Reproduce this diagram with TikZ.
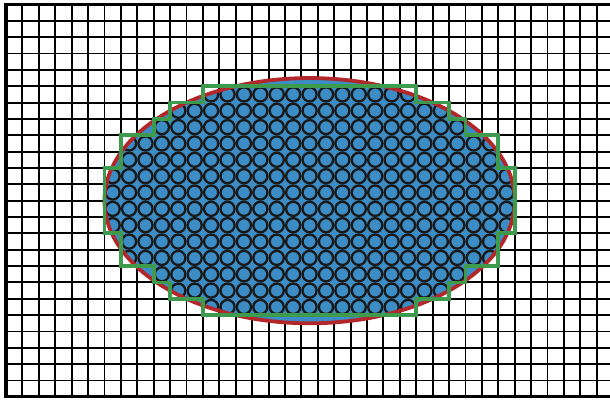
\documentclass[tikz,border=0pt]{standalone}
\definecolor{cellblue}{HTML}{3C8CC6}
\definecolor{ellred}{HTML}{B2282A}
\definecolor{stairgreen}{HTML}{3E9A4C}
\tikzset{
  gridline/.style={black, line width=1.9pt},
  frameline/.style={black, line width=3.2pt},
  cellcircle/.style={draw=black!90, line width=2.3pt},
  ellipseline/.style={draw=ellred, line width=3.8pt},
  stairline/.style={draw=stairgreen, line width=3.8pt, line join=miter}
}
\begin{document}
\begin{tikzpicture}[x=1pt,y=1pt]
\useasboundingbox (0,0) rectangle (610,401);
\clip (0,0) rectangle (610,401);
\fill[white] (0,0) rectangle (610,401);
\begin{scope}[shift={(6pt,396.5pt)}, x=16.41pt, y=-16.35pt]
  % grid
  \foreach \c in {1,...,37} \draw[gridline] (\c,0) -- (\c,24);
  \foreach \r in {1,...,23} \draw[gridline] (0,\r) -- (37,\r);
  \draw[frameline] (38,0) -- (0,0) -- (0,24) -- (38,24);
  % ellipse fill
  \fill[cellblue] (18.5,12) ellipse[x radius=12.5, y radius=7.5];
  % circles
  \begin{scope}
    \clip (18.5,12) ellipse[x radius=12.5, y radius=7.5];
    \foreach \r/\a/\b in {5/12/24, 6/10/26, 7/9/27, 8/7/29, 9/7/29, 10/6/30, 11/6/30, 12/6/30, 13/6/30, 14/7/29, 15/7/29, 16/9/27, 17/10/26, 18/12/24}
      \foreach \c in {\a,...,\b}
        \draw[cellcircle] (\c+0.5,\r+0.5) circle[radius=7.05pt];
  \end{scope}
  % ellipse outline
  \draw[ellipseline] (18.5,12) ellipse[x radius=12.5, y radius=7.5];
  % staircase
  \draw[stairline] (12,5) -- (25,5) -- (25,6) -- (27,6) -- (27,7) -- (28,7) -- (28,8) -- (30,8) -- (30,10) -- (31,10) -- (31,14) -- (30,14) -- (30,16) -- (28,16) -- (28,17) -- (27,17) -- (27,18) -- (25,18) -- (25,19) -- (12,19) -- (12,18) -- (10,18) -- (10,17) -- (9,17) -- (9,16) -- (7,16) -- (7,14) -- (6,14) -- (6,10) -- (7,10) -- (7,8) -- (9,8) -- (9,7) -- (10,7) -- (10,6) -- (12,6) -- cycle;
\end{scope}
\end{tikzpicture}
\end{document}
